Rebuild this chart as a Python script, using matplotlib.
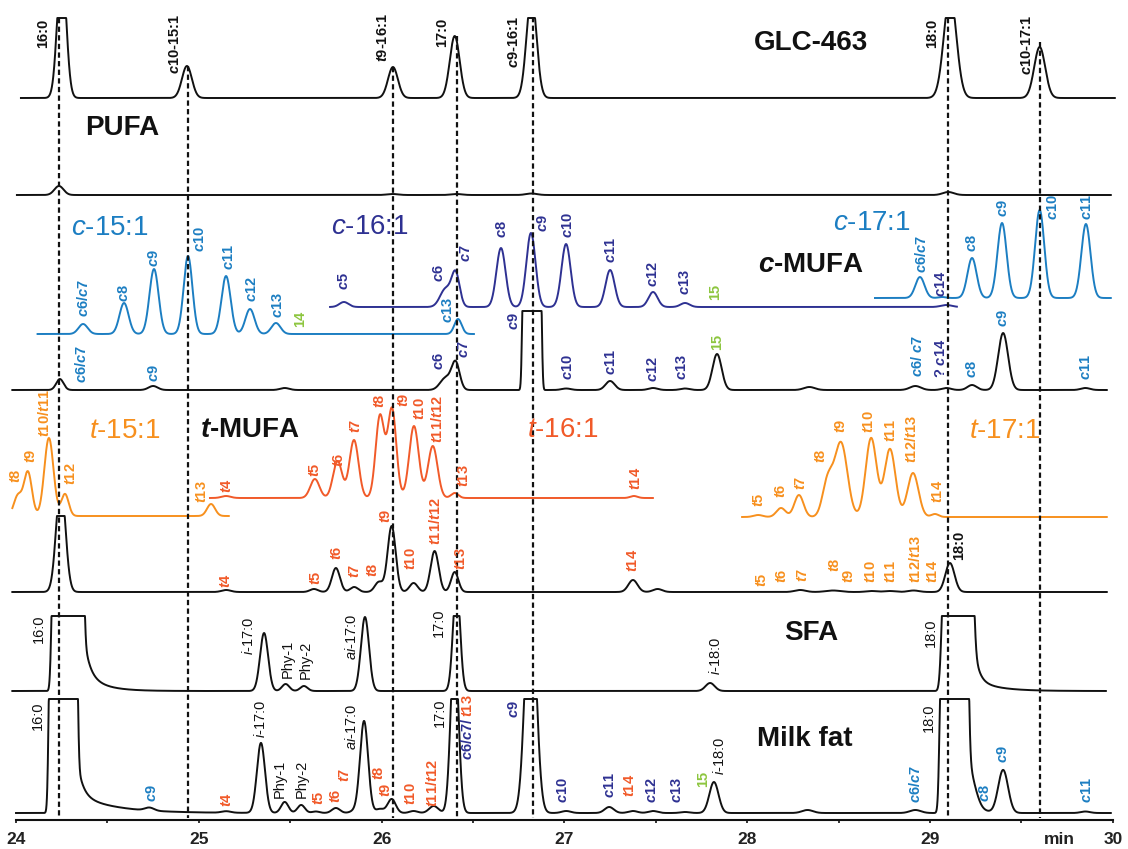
import math
import re
import numpy as np
import matplotlib
matplotlib.use("Agg")
import matplotlib.pyplot as plt

plt.rcParams['font.family'] = ['Liberation Sans', 'DejaVu Sans']
plt.rcParams['mathtext.fontset'] = 'custom'
plt.rcParams['mathtext.it'] = 'Liberation Sans:italic:bold'
plt.rcParams['mathtext.sf'] = 'Liberation Sans:italic'
plt.rcParams['mathtext.rm'] = 'Liberation Sans'
plt.rcParams['mathtext.bf'] = 'Liberation Sans:bold'
plt.rcParams['lines.scale_dashes'] = False

# ---------------------------------------------------------------- data
# peaks: (retention time [min], height [rel. units], sigma [min])
glc_peaks = [(24.25, 136, 0.024), (24.935, 32, 0.027), (26.062, 31, 0.027),
             (26.40, 62, 0.027), (26.82, 104, 0.027), (29.11, 104, 0.034),
             (29.60, 51, 0.030)]
pufa_peaks = [(24.235, 9, 0.025), (26.06, 1, 0.03), (26.41, 1, 0.03),
              (26.82, 1.5, 0.03), (29.10, 3, 0.03)]
c151_peaks = [(24.367, 10, 0.025), (24.591, 31, 0.025), (24.755, 65, 0.025),
              (24.941, 78, 0.024), (25.149, 58, 0.025), (25.28, 25, 0.025),
              (25.422, 11, 0.025), (26.418, 15, 0.020)]
c161_peaks = [(25.794, 5, 0.025), (26.35, 18, 0.030), (26.405, 33, 0.022),
              (26.653, 59, 0.025), (26.817, 74, 0.025), (27.009, 63, 0.025),
              (27.25, 37, 0.025), (27.485, 15, 0.025), (27.66, 4, 0.025),
              (29.09, 2, 0.03)]
c171_peaks = [(28.945, 21, 0.025), (29.066, 1, 0.02), (29.23, 40, 0.025),
              (29.394, 75, 0.025), (29.60, 88, 0.025), (29.853, 74, 0.025)]
cmufa_peaks = [(24.24, 11, 0.020), (24.75, 4, 0.025), (25.47, 2, 0.025),
               (26.35, 12, 0.030), (26.405, 27, 0.022), (27.01, 1.5, 0.025),
               (27.25, 9, 0.025), (27.485, 2, 0.025), (27.66, 1.5, 0.025),
               (27.835, 36, 0.025), (28.34, 3, 0.03), (28.92, 4, 0.03),
               (29.09, 2, 0.025), (29.23, 5, 0.025), (29.40, 57, 0.027),
               (29.85, 2, 0.025)]
cmufa_plateaus = [(26.77, 26.875, 174, 0.008)]
t151_peaks = [(24.01, 20, 0.022), (24.065, 44, 0.022), (24.18, 78, 0.025),
              (24.268, 22, 0.020), (25.067, 12, 0.022)]
t161_peaks = [(25.149, 2, 0.025), (25.635, 19, 0.025), (25.759, 37, 0.025),
              (25.849, 58, 0.025), (25.991, 82, 0.0235), (26.057, 89, 0.0235),
              (26.177, 72, 0.026), (26.28, 52, 0.026), (26.40, 5, 0.020),
              (27.38, 2, 0.020)]
t171_peaks = [(28.06, 2, 0.025), (28.185, 9, 0.025), (28.283, 22, 0.025),
              (28.44, 35, 0.028), (28.513, 74, 0.035), (28.678, 79, 0.030),
              (28.781, 68, 0.030), (28.907, 44, 0.030), (29.027, 3, 0.020)]
tmufa_peaks = [(24.245, 110, 0.025), (25.15, 2, 0.025), (25.63, 3, 0.022),
               (25.75, 24, 0.022), (25.85, 5, 0.022), (25.985, 10, 0.022),
               (26.055, 66, 0.022), (26.175, 9, 0.022), (26.29, 41, 0.022),
               (26.40, 20, 0.020), (27.375, 12, 0.025), (27.51, 3, 0.025),
               (28.29, 2, 0.03), (28.47, 1.5, 0.04), (28.68, 1, 0.03),
               (28.78, 1, 0.03), (28.91, 1.5, 0.03), (29.109, 29, 0.025)]
sfa_peaks = [(25.357, 58, 0.022), (25.475, 7, 0.020), (25.575, 5, 0.020),
             (25.909, 74, 0.022), (26.41, 109, 0.019), (27.797, 8, 0.025)]
sfa_plateaus = [(24.195, 24.37, 165, 0.011), (29.066, 29.235, 165, 0.016)]
sfa_tails = [(24.37, 40, 0.03), (24.37, 18, 0.10), (29.235, 45, 0.025),
             (29.235, 12, 0.12)]
milk_peaks = [(24.73, 3, 0.025), (25.15, 1.5, 0.025), (25.34, 70, 0.022),
              (25.47, 11, 0.020), (25.56, 8, 0.020), (25.64, 1.5, 0.02),
              (25.75, 5, 0.022), (25.85, 2, 0.022), (25.904, 92, 0.022),
              (25.99, 4, 0.022), (26.055, 14, 0.022), (26.175, 2, 0.022),
              (26.285, 7, 0.025), (26.399, 171, 0.021), (26.815, 240, 0.029),
              (27.01, 2, 0.025), (27.245, 6, 0.025), (27.375, 2, 0.025),
              (27.485, 2, 0.025), (27.66, 1, 0.025), (27.818, 31, 0.025),
              (28.33, 3, 0.03), (28.92, 3, 0.03), (29.24, 8, 0.025),
              (29.40, 43, 0.027), (29.85, 1.5, 0.025)]
milk_plateaus = [(24.18, 24.335, 250, 0.010), (29.055, 29.208, 250, 0.012)]
milk_tails = [(24.335, 35, 0.03), (24.335, 18, 0.20), (29.208, 70, 0.03)]

# reference (dashed) lines: retention times of the GLC-463 standard peaks
ref_times = [24.235, 24.94, 26.06, 26.41, 26.83, 29.10, 29.60]

# ---------------------------------------------------------------- layout
LB, DB, GR, OR, RD, BK = '#1c7ec2', '#2e3192', '#8dc63f', '#f7901e', '#f15a29', '#111111'
COL = {'k': BK, 'lb': LB, 'db': DB, 'g': GR, 'o': OR, 'r': RD}

# (peaks, plateaus, tails, colour, baseline y, start, end, clip height)
traces = [
    (glc_peaks, [], [], BK, 98, 24.027, 30.012, 80),
    (pufa_peaks, [], [], BK, 195, 24.005, 29.99, 200),
    (c151_peaks, [], [], LB, 334, 24.118, 26.505, 200),
    (c161_peaks, [], [], DB, 307, 25.718, 29.148, 200),
    (c171_peaks, [], [], LB, 298, 28.699, 29.99, 200),
    (cmufa_peaks, cmufa_plateaus, [], BK, 390, 23.98, 29.968, 79),
    (t151_peaks, [], [], OR, 516, 23.98, 25.165, 200),
    (t161_peaks, [], [], RD, 498, 25.061, 27.485, 200),
    (t171_peaks, [], [], OR, 517, 27.972, 29.968, 200),
    (tmufa_peaks, [], [], BK, 592, 23.98, 29.968, 76),
    (sfa_peaks, sfa_plateaus, sfa_tails, BK, 691, 23.98, 29.963, 75),
    (milk_peaks, milk_plateaus, milk_tails, BK, 813, 24.0, 29.99, 114),
]
ref_tops = [18, 66, 67, 36, 17, 18, 42]
AXIS_Y = 820

# peak labels: (text, time, y of lower end, colour key, bold)
peak_labels = [
    ("16:0", 24.148, 48, 'k', 1), ("c10-15:1", 24.87, 74, 'k', 1),
    ("t9-16:1", 26.008, 62, 'k', 1), ("17:0", 26.33, 47, 'k', 1),
    ("c9-16:1", 26.724, 68, 'k', 1), ("18:0", 29.01, 48, 'k', 1),
    ("c10-17:1", 29.53, 75, 'k', 1),
    # c-15:1
    ("c6/c7", 24.367, 317, 'lb', 1), ("c8", 24.591, 302, 'lb', 1),
    ("c9", 24.755, 267, 'lb', 1), ("c10", 25.007, 252, 'lb', 1),
    ("c11", 25.165, 270, 'lb', 1), ("c12", 25.29, 302, 'lb', 1),
    ("c13", 25.433, 318, 'lb', 1), ("14", 25.554, 327, 'g', 1),
    ("c13", 26.363, 323, 'lb', 1),
    # c-16:1
    ("c5", 25.794, 290, 'db', 1), ("c6", 26.316, 282, 'db', 1),
    ("c7", 26.463, 262, 'db', 1), ("c8", 26.659, 238, 'db', 1),
    ("c9", 26.883, 232, 'db', 1), ("c10", 27.02, 238, 'db', 1),
    ("c11", 27.255, 263, 'db', 1), ("c12", 27.485, 287, 'db', 1),
    ("c13", 27.66, 295, 'db', 1), ("15", 27.824, 300, 'g', 1),
    ("c14", 29.06, 297, 'db', 1),
    # c-17:1
    ("c6/c7", 28.956, 273, 'lb', 1), ("c8", 29.23, 252, 'lb', 1),
    ("c9", 29.40, 217, 'lb', 1), ("c10", 29.673, 220, 'lb', 1),
    ("c11", 29.86, 220, 'lb', 1),
    # c-MUFA fraction
    ("c6/c7", 24.36, 383, 'lb', 1), ("c9", 24.755, 382, 'lb', 1),
    ("c6", 26.316, 370, 'db', 1), ("c7", 26.45, 358, 'db', 1),
    ("c9", 26.724, 330, 'db', 1), ("c10", 27.02, 380, 'db', 1),
    ("c11", 27.255, 375, 'db', 1), ("c12", 27.485, 382, 'db', 1),
    ("c13", 27.643, 380, 'db', 1), ("15", 27.835, 350, 'g', 1),
    ("c6/ c7", 28.934, 377, 'lb', 1), ("? c14", 29.06, 378, 'db', 1),
    ("c8", 29.23, 378, 'lb', 1), ("c9", 29.40, 327, 'lb', 1),
    ("c11", 29.853, 380, 'lb', 1),
    # t-15:1
    ("t8", 24.0, 483, 'o', 1), ("t9", 24.083, 463, 'o', 1),
    ("t10/t11", 24.158, 437, 'o', 1), ("t12", 24.30, 485, 'o', 1),
    ("t13", 25.017, 503, 'o', 1), ("t4", 25.154, 493, 'r', 1),
    # t-16:1
    ("t5", 25.636, 477, 'r', 1), ("t6", 25.765, 467, 'r', 1),
    ("t7", 25.86, 433, 'r', 1), ("t8", 25.99, 408, 'r', 1),
    ("t9", 26.12, 407, 'r', 1), ("t10", 26.21, 420, 'r', 1),
    ("t11/t12", 26.306, 443, 'r', 1), ("t13", 26.45, 487, 'r', 1),
    ("t14", 27.39, 490, 'r', 1),
    # t-17:1
    ("t5", 28.065, 507, 'o', 1), ("t6", 28.185, 498, 'o', 1),
    ("t7", 28.294, 490, 'o', 1), ("t8", 28.404, 463, 'o', 1),
    ("t9", 28.513, 433, 'o', 1), ("t10", 28.666, 433, 'o', 1),
    ("t11", 28.787, 442, 'o', 1), ("t12/t13", 28.90, 463, 'o', 1),
    ("t14", 29.044, 503, 'o', 1),
    # t-MUFA fraction
    ("t4", 25.149, 588, 'r', 1), ("t5", 25.64, 585, 'r', 1),
    ("t6", 25.756, 560, 'r', 1), ("t7", 25.855, 578, 'r', 1),
    ("t8", 25.953, 577, 'r', 1), ("t9", 26.024, 523, 'r', 1),
    ("t10", 26.16, 570, 'r', 1), ("t11/t12", 26.297, 545, 'r', 1),
    ("t13", 26.434, 570, 'r', 1), ("t14", 27.375, 572, 'r', 1),
    ("t5", 28.08, 587, 'o', 1), ("t6", 28.19, 583, 'o', 1),
    ("t7", 28.305, 582, 'o', 1), ("t8", 28.48, 572, 'o', 1),
    ("t9", 28.557, 583, 'o', 1), ("t10", 28.677, 583, 'o', 1),
    ("t11", 28.787, 583, 'o', 1), ("t12/t13", 28.918, 583, 'o', 1),
    ("t14", 29.016, 583, 'o', 1), ("18:0", 29.159, 560, 'k', 1),
    # SFA
    ("16:0", 24.126, 643, 'k', 0), ("i-17:0", 25.27, 655, 'k', 0),
    ("Phy-1", 25.488, 678, 'k', 0), ("Phy-2", 25.586, 679, 'k', 0),
    ("ai-17:0", 25.838, 660, 'k', 0), ("17:0", 26.314, 637, 'k', 0),
    ("i-18:0", 27.824, 675, 'k', 0), ("18:0", 29.006, 647, 'k', 0),
    # milk fat
    ("16:0", 24.118, 730, 'k', 0), ("c9", 24.744, 802, 'lb', 1),
    ("t4", 25.154, 807, 'r', 1), ("i-17:0", 25.335, 738, 'k', 0),
    ("Phy-1", 25.444, 798, 'k', 0), ("Phy-2", 25.565, 798, 'k', 0),
    ("t5", 25.658, 805, 'r', 1), ("t6", 25.75, 803, 'r', 1),
    ("t7", 25.80, 782, 'r', 1), ("ai-17:0", 25.838, 750, 'k', 0),
    ("t8", 25.986, 780, 'r', 1), ("t9", 26.024, 797, 'r', 1),
    ("t10", 26.16, 805, 'r', 1), ("t11/t12", 26.28, 807, 'r', 1),
    ("17:0", 26.32, 727, 'k', 0), ("c9", 26.724, 718, 'db', 1),
    ("c10", 26.99, 803, 'db', 1), ("c11", 27.25, 798, 'db', 1),
    ("t14", 27.36, 797, 'r', 1), ("c12", 27.48, 803, 'db', 1),
    ("c13", 27.616, 803, 'db', 1), ("15", 27.758, 787, 'g', 1),
    ("i-18:0", 27.846, 775, 'k', 0), ("c6/c7", 28.923, 803, 'lb', 1),
    ("18:0", 28.995, 732, 'k', 0), ("c8", 29.30, 802, 'lb', 1),
    ("c9", 29.40, 763, 'lb', 1), ("c11", 29.86, 803, 'lb', 1),
]

# panel titles: (text, x-centre time, y, colour key, bold)
titles = [
    ("GLC-463", 28.35, 43, 'k', 1), ("PUFA", 24.58, 128, 'k', 1),
    ("c-15:1", 24.51, 228, 'lb', 0), ("c-16:1", 25.937, 227, 'db', 0),
    ("c-17:1", 28.683, 223, 'lb', 0), ("c-MUFA", 28.35, 265, 'k', 1),
    ("t-15:1", 24.596, 431, 'o', 0), ("t-MUFA", 25.28, 430, 'k', 1),
    ("t-16:1", 26.992, 430, 'r', 0), ("t-17:1", 29.41, 431, 'o', 0),
    ("SFA", 28.35, 633, 'k', 1), ("Milk fat", 28.316, 739, 'k', 1),
]

x_ticks = [24, 25, 26, 27, 28, 29, 30]
x_minor = [24.5, 25.5, 26.5, 27.5, 28.5, 29.5]


# ---------------------------------------------------------------- helpers
_erf = np.vectorize(math.erf)


def signal(t, peaks, plateaus, tails):
    y = np.zeros_like(t)
    for c, h, s in peaks:
        y += h * np.exp(-0.5 * ((t - c) / s) ** 2)
    for a, b, H, s in plateaus:
        y += H * 0.5 * (_erf((t - a) / s) - _erf((t - b) / s))
    for t0, A, tau in tails:
        y += np.where(t >= t0, A * np.exp(-np.clip(t - t0, 0, None) / tau), 0.0)
    return y


def fmt(s, bold):
    it = r'$\mathit{%s}$' if bold else r'$\mathsf{%s}$'
    s = re.sub(r'(?<![A-Za-z])([ct])(?=[\d\-])', lambda m: it % m.group(1), s)
    s = re.sub(r'^(a?i)(?=-)', lambda m: it % m.group(1), s)
    return s


# ---------------------------------------------------------------- figure
fig = plt.figure(figsize=(11.28, 8.49), dpi=100)
ax = fig.add_axes([0, 0, 1, 1])
PX = 182.8  # pixels per minute
ax.set_xlim(24 - 16 / PX, 24 + 1112 / PX)
ax.set_ylim(849, 0)

for peaks, plats, tails, col, base, t0, t1, clip in traces:
    t = np.arange(t0, t1, 0.001)
    y = base - np.minimum(signal(t, peaks, plats, tails), clip)
    ax.plot(t, y, color=col, lw=1.4, solid_joinstyle='round', zorder=2)

for tr, top in zip(ref_times, ref_tops):
    ax.plot([tr, tr], [top, AXIS_Y - 2], color=BK, lw=1.6,
            linestyle=(0, (3.8, 2.4)), zorder=3)

for txt, tt, yb, ck, bold in peak_labels:
    ax.text(tt, yb, fmt(txt, bold), rotation=90, ha='center', va='bottom',
            color=COL[ck], fontsize=10.5,
            fontweight='bold' if bold else 'normal', zorder=4)

# mixed-colour label in the milk-fat trace
t1_ = ax.text(26.47, 760, fmt("c6/c7/", 1), rotation=90, ha='center',
              va='bottom', color=DB, fontsize=10.5, fontweight='bold')
ax.annotate(fmt("t13", 1), xy=(0.5, 1.0), xycoords=t1_, rotation=90,
            ha='center', va='bottom', color=RD, fontsize=10.5,
            fontweight='bold')

for txt, tt, yc, ck, bold in titles:
    ax.text(tt, yc, fmt(txt, bold), ha='center', va='center',
            color=COL[ck], fontsize=20,
            fontweight='bold' if bold else 'normal')

for side in ('top', 'left', 'right'):
    ax.spines[side].set_visible(False)
ax.spines['bottom'].set_position(('data', AXIS_Y))
ax.spines['bottom'].set_bounds(24, 30)
ax.spines['bottom'].set_linewidth(1.5)
ax.spines['bottom'].set_color(BK)
ax.set_yticks([])
ax.set_xticks(x_ticks, labels=[str(v) for v in x_ticks],
              fontsize=12.5, fontweight='bold')
ax.set_xticks(x_minor, minor=True)
ax.tick_params(axis='x', which='both', direction='out', length=2.5,
               width=1.2, color=BK, pad=6.5, labelcolor='#222222')
ax.text(29.71, 840, "min", ha='center', va='center', fontsize=12.5,
        fontweight='bold', color='#222222')
ax.patch.set_alpha(0)

fig.savefig("out.png", dpi=100, facecolor='white')
